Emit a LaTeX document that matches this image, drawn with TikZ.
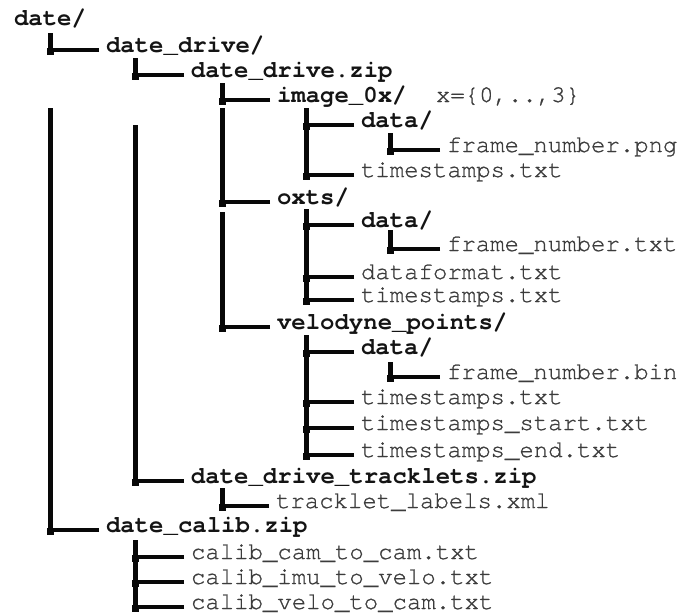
\documentclass[tikz,border=0pt]{standalone}
\usepackage{fontspec}
\setmonofont{TeX Gyre Cursor}
\newfontfamily\regtt[FakeBold=0.9]{TeX Gyre Cursor}
\definecolor{txtdark}{HTML}{141414}
\definecolor{txtgray}{HTML}{3C3C3C}
\definecolor{linec}{HTML}{080808}
\tikzset{
  ent/.style={anchor=base west, inner sep=0pt, outer sep=0pt, text=txtgray,
    font=\fontsize{12pt}{14pt}\selectfont\regtt},
  bent/.style={ent, text=txtdark, font=\fontsize{12pt}{14pt}\selectfont\ttfamily\bfseries},
  vline/.style={draw=linec, line width=2.5pt},
  hline/.style={draw=linec, line width=2pt},
  blob/.style={fill=linec}
}
% \fnode{style}{name}{x}{connector y}{text}
\newcommand\fnode[5]{\node[#1] (#2) at (#3,#4+2) {#5};
  \coordinate (#2e) at ([shift={(-7,-2)}]#2.base west);}
% \hconn{trunk coordinate}{node name}
\newcommand\hconn[2]{\draw[hline] (#2e) -- (#2e -| #1);
  \fill[blob] ([shift={(-3.5,-2.5)}]#2e -| #1) rectangle ++(7,7);}
\begin{document}
\begin{tikzpicture}[x=0.5pt,y=-0.5pt]
\useasboundingbox (0,0) rectangle (687,612);
\fill[white] (0,0) rectangle (687,612);

% trunks
\coordinate (TA) at (50,0);
\coordinate (TB) at (135,0);
\coordinate (TC) at (222,0);
\coordinate (TD) at (306,0);
\coordinate (TE) at (390,0);

% entries
\node[bent] (root) at (14,25) {date/};
\fnode{bent}{n1}{106}{50}{date\_drive/}
\fnode{bent}{n2}{191}{75}{date\_drive.zip}
\fnode{bent}{n3}{277}{100}{image\_0x/}
\fnode{ent}{n3x}{436}{100}{x=\{0,..,3\}}
\fnode{bent}{n4}{361}{125}{data/}
\fnode{ent}{n5}{447}{150}{frame\_number.png}
\fnode{ent}{n6}{361}{175}{timestamps.txt}
\fnode{bent}{n7}{277}{202}{oxts/}
\fnode{bent}{n8}{361}{225}{data/}
\fnode{ent}{n9}{447}{249}{frame\_number.txt}
\fnode{ent}{n10}{361}{277}{dataformat.txt}
\fnode{ent}{n11}{361}{300}{timestamps.txt}
\fnode{bent}{n12}{277}{327}{velodyne\_points/}
\fnode{bent}{n13}{361}{352}{data/}
\fnode{ent}{n14}{447}{377}{frame\_number.bin}
\fnode{ent}{n15}{361}{402}{timestamps.txt}
\fnode{ent}{n16}{361}{428}{timestamps\_start.txt}
\fnode{ent}{n17}{361}{455}{timestamps\_end.txt}
\fnode{bent}{n18}{191}{481}{date\_drive\_tracklets.zip}
\fnode{ent}{n19}{276}{506}{tracklet\_labels.xml}
\fnode{bent}{n20}{106}{530}{date\_calib.zip}
\fnode{ent}{n21}{191}{557}{calib\_cam\_to\_cam.txt}
\fnode{ent}{n22}{191}{582}{calib\_imu\_to\_velo.txt}
\fnode{ent}{n23}{191}{607}{calib\_velo\_to\_cam.txt}

% vertical trunk segments
\draw[vline] (50,33) -- (50,52);
\draw[vline] (50,108) -- (50,532);
\draw[vline] (135,58) -- (135,77);
\draw[vline] (135,125) -- (135,483);
\draw[vline] (222,83) -- (222,102);
\draw[vline] (222,108) -- (222,204);
\draw[vline] (222,212) -- (222,329);
\draw[vline] (306,108) -- (306,177);
\draw[vline] (306,209) -- (306,302);
\draw[vline] (306,335) -- (306,457);
\draw[vline] (390,133) -- (390,152);
\draw[vline] (390,230) -- (390,251);
\draw[vline] (390,362) -- (390,379);
\draw[vline] (222,488) -- (222,508);
\draw[vline] (135,540) -- (135,612);

% horizontal connectors
\hconn{TA}{n1}
\hconn{TA}{n20}
\hconn{TB}{n2}
\hconn{TB}{n18}
\hconn{TC}{n3}
\hconn{TC}{n7}
\hconn{TC}{n12}
\hconn{TD}{n4}
\hconn{TD}{n6}
\hconn{TD}{n8}
\hconn{TD}{n10}
\hconn{TD}{n11}
\hconn{TD}{n13}
\hconn{TD}{n15}
\hconn{TD}{n16}
\hconn{TD}{n17}
\hconn{TE}{n5}
\hconn{TE}{n9}
\hconn{TE}{n14}
\hconn{TC}{n19}
\hconn{TB}{n21}
\hconn{TB}{n22}
\hconn{TB}{n23}
\end{tikzpicture}
\end{document}
